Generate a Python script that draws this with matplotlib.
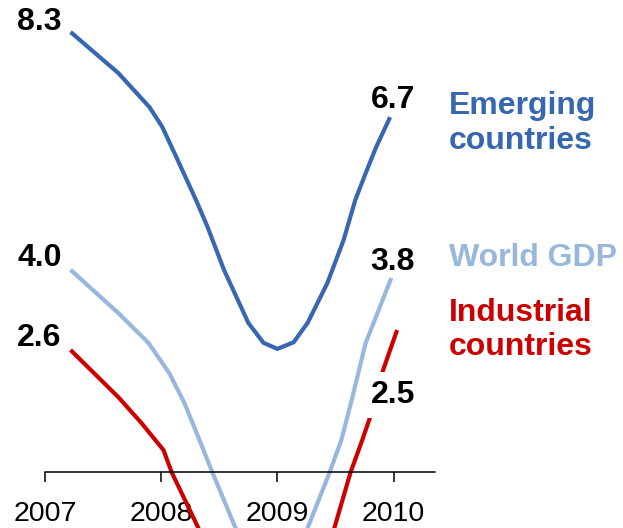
import matplotlib
matplotlib.use("Agg")
import matplotlib.pyplot as plt

plt.rcParams['font.family'] = ['Liberation Sans', 'DejaVu Sans']

# Growth rates (years on x, percent on y)
emerging_x = [2007.22, 2007.63, 2007.90, 2008.01, 2008.13, 2008.30, 2008.40, 2008.54, 2008.75, 2008.88,
              2009.00, 2009.14, 2009.26, 2009.43, 2009.57, 2009.67, 2009.76, 2009.85, 2009.97]
emerging_y = [8.30, 7.56, 6.94, 6.58, 6.04, 5.26, 4.77, 4.00, 3.04, 2.68,
              2.57, 2.69, 3.04, 3.76, 4.54, 5.26, 5.75, 6.22, 6.76]

world_x = [2007.22, 2007.63, 2007.89, 2008.07, 2008.20, 2008.33, 2008.44, 2008.64, 2008.85, 2009.00,
           2009.10, 2009.26, 2009.45, 2009.55, 2009.64, 2009.76, 2009.98]
world_y = [4.00, 3.22, 2.68, 2.13, 1.59, 0.92, 0.34, -0.67, -1.20, -1.30,
           -1.20, -0.67, 0.34, 0.92, 1.65, 2.68, 3.85]

industrial_x = [2007.22, 2007.63, 2007.83, 2007.95, 2008.02, 2008.09, 2008.32, 2008.60, 2008.90, 2009.10,
                2009.35, 2009.49, 2009.63, 2009.73, 2009.81, 2009.91, 2010.03]
industrial_y = [2.55, 1.70, 1.23, 0.92, 0.74, 0.34, -0.67, -2.00, -2.60, -2.60,
                -1.90, -0.67, 0.34, 0.92, 1.41, 2.19, 2.91]

start_labels = ["8.3", "4.0", "2.6"]
end_labels = ["6.7", "3.8", "2.5"]
names = ["Emerging\ncountries", "World GDP", "Industrial\ncountries"]
years = [2007, 2008, 2009, 2010]

colors = ["#3767b0", "#97b7dc", "#cc0000"]

fig = plt.figure(figsize=(6.23, 5.28), dpi=100)
ax = fig.add_axes([0, 0, 1, 1])
ax.set_xlim(2006.613, 2011.974)
ax.set_ylim(-0.669, 8.879)

series = [(emerging_x, emerging_y), (world_x, world_y), (industrial_x, industrial_y)]
for (xs, ys), c in zip(series, colors):
    ax.plot(xs, ys, color=c, lw=3.0, solid_capstyle='butt', solid_joinstyle='round', zorder=2)

# value labels next to line ends (offsets in pixels)
start_off = [(-31, 10), (-31, 12), (-31, 12)]
end_off = [(3, 17), (1, 16), (-4, -65)]
for i, (xs, ys) in enumerate(series):
    ax.annotate(start_labels[i], (xs[0], ys[0]), xytext=start_off[i], textcoords='offset pixels',
                ha='center', va='center', fontsize=23, fontweight='bold', color='black')
    bbox = None
    if i == 2:
        bbox = dict(facecolor='white', edgecolor='none', pad=6)
    ax.annotate(end_labels[i], (xs[-1], ys[-1]), xytext=end_off[i], textcoords='offset pixels',
                ha='center', va='center', fontsize=23, fontweight='bold', color='black',
                bbox=bbox, zorder=3)

# series names on the right
name_y = [0.766, 0.511, 0.375]
for n, c, yy in zip(names, colors, name_y):
    ax.text(0.7207, yy, n, transform=ax.transAxes, ha='left', va='center',
            fontsize=23, fontweight='bold', color=c, linespacing=1.2)

# axis
for s in ['top', 'right', 'left']:
    ax.spines[s].set_visible(False)
ax.spines['bottom'].set_position(('data', 0.344))
ax.spines['bottom'].set_bounds(2007, 2010.36)
ax.spines['bottom'].set_linewidth(1.1)
ax.set_xticks(years)
ax.set_xticklabels([str(y) for y in years])
ax.tick_params(axis='x', direction='out', length=7.2, width=1.1, labelsize=20.5, pad=14)
ax.set_yticks([])

fig.savefig("out.png", dpi=100)
